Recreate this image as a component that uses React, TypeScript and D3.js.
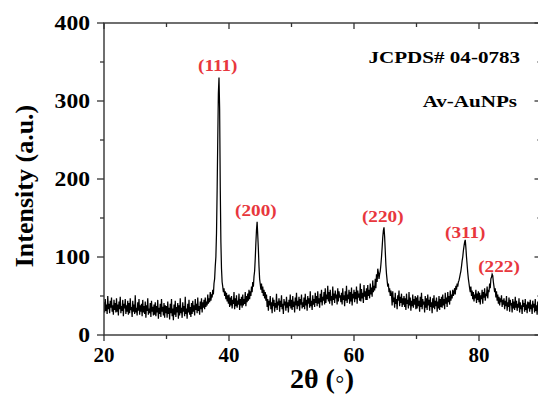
import { useMemo } from "react";
import * as d3 from "d3";

// 2θ from 20 to 90 in steps of 0.1 degrees
const START = 20;
const STEP = 0.1;

// intensities, 20 values per 2 degrees
const intensity: number[] = [
  42, 29, 46, 31, 39, 27, 50, 33, 40, 28, 44, 35, 48, 30, 38, 26, 45, 32, 41, 29,
  47, 30, 39, 25, 43, 33, 49, 28, 37, 31, 45, 24, 40, 34, 46, 27, 38, 30, 44, 26,
  41, 28, 47, 32, 36, 23, 44, 30, 39, 27, 51, 29, 35, 25, 42, 31, 46, 26, 38, 30,
  40, 24, 45, 29, 37, 27, 43, 22, 38, 31, 47, 26, 34, 28, 41, 23, 44, 30, 36, 25,
  39, 26, 42, 24, 37, 29, 45, 21, 35, 27, 40, 23, 46, 30, 36, 25, 41, 22, 38, 28,
  37, 22, 43, 27, 35, 20, 40, 28, 46, 24, 34, 19, 39, 26, 44, 23, 36, 29, 41, 21,
  38, 25, 47, 28, 35, 22, 42, 30, 37, 24, 49, 27, 34, 21, 40, 29, 45, 26, 36, 23,
  41, 27, 44, 30, 38, 25, 46, 32, 40, 28, 48, 31, 37, 26, 43, 33, 47, 29, 42, 35,
  45, 33, 48, 36, 43, 38, 52, 40, 47, 42, 55, 44, 50, 48, 58, 52, 66, 72, 88, 100,
  130, 185, 250, 310, 330, 290, 190, 120, 85, 68, 62, 55, 60, 50, 56, 46, 54, 43, 51, 40,
  52, 36, 48, 38, 50, 34, 45, 40, 55, 33, 47, 37, 51, 35, 44, 39, 53, 32, 46, 38,
  49, 35, 52, 38, 46, 40, 55, 37, 50, 42, 53, 44, 58, 46, 56, 50, 62, 55, 68, 62,
  75, 82, 98, 118, 135, 145, 128, 110, 88, 72, 65, 58, 66, 54, 62, 50, 58, 47, 55, 44,
  52, 36, 46, 31, 44, 38, 50, 33, 42, 28, 48, 37, 45, 30, 41, 35, 53, 32, 43, 38,
  47, 30, 44, 36, 51, 33, 40, 27, 46, 38, 43, 31, 49, 35, 42, 29, 45, 37, 52, 34,
  45, 32, 50, 36, 43, 29, 48, 38, 54, 33, 44, 37, 49, 31, 46, 39, 52, 34, 42, 36,
  48, 33, 53, 38, 45, 31, 50, 40, 47, 35, 56, 37, 44, 32, 51, 39, 46, 36, 54, 41,
  50, 37, 56, 40, 47, 35, 53, 42, 58, 38, 49, 44, 55, 39, 60, 41, 52, 46, 63, 43,
  55, 40, 58, 44, 50, 38, 62, 45, 53, 41, 57, 47, 52, 39, 60, 43, 56, 48, 51, 42,
  54, 39, 60, 45, 51, 37, 56, 44, 63, 41, 52, 46, 58, 40, 55, 43, 61, 38, 53, 47,
  58, 42, 55, 46, 62, 40, 57, 48, 53, 44, 66, 43, 59, 47, 54, 41, 64, 49, 56, 45,
  60, 45, 64, 50, 58, 47, 66, 52, 61, 49, 70, 55, 63, 57, 72, 60, 78, 68, 85, 80,
  72, 78, 82, 90, 100, 112, 125, 134, 138, 126, 108, 90, 78, 70, 62, 66, 55, 60, 50, 57,
  52, 38, 56, 42, 48, 35, 54, 40, 46, 33, 51, 44, 57, 37, 49, 41, 53, 36, 47, 39,
  50, 36, 47, 32, 53, 40, 45, 34, 55, 38, 48, 31, 44, 37, 52, 35, 46, 39, 50, 33,
  48, 34, 51, 37, 44, 30, 49, 36, 54, 33, 46, 39, 43, 29, 50, 35, 47, 32, 52, 38,
  45, 31, 49, 36, 42, 28, 47, 35, 51, 33, 44, 37, 48, 30, 43, 34, 50, 32, 46, 36,
  49, 35, 52, 38, 46, 33, 54, 40, 48, 36, 55, 42, 50, 39, 57, 44, 52, 47, 58, 50,
  54, 60, 52, 63, 58, 66, 62, 68, 70, 74, 78, 82, 88, 95, 100, 108, 114, 119, 122, 112,
  100, 90, 80, 72, 66, 60, 55, 62, 50, 57, 46, 55, 43, 52, 47, 58, 41, 53, 45, 56,
  42, 54, 39, 51, 46, 58, 40, 55, 48, 60, 44, 53, 50, 62, 47, 58, 55, 66, 60, 72,
  74, 78, 76, 68, 62, 55, 60, 48, 56, 44, 52, 40, 49, 38, 47, 42, 51, 36, 45, 39,
  47, 33, 44, 37, 50, 31, 42, 36, 48, 30, 45, 38, 41, 29, 46, 34, 43, 32, 49, 35,
  44, 31, 40, 35, 47, 29, 42, 33, 38, 27, 45, 36, 41, 30, 46, 32, 39, 28, 43, 34,
  42, 30, 45, 33, 39, 27, 44, 35, 40, 29, 46, 31, 38, 26, 43, 34, 41, 30, 44, 32,
  36,
];

const peakLabels = ["(111)", "(200)", "(220)", "(311)", "(222)"];
const peakPos = [38.2, 44.3, 64.6, 77.8, 83.2];
const peakLabelY = [338, 152, 145, 124, 81];

const xTicks = [20, 40, 60, 80];
const yTicks = [0, 100, 200, 300, 400];

const W = 538;
const H = 395;
const M = { left: 104, right: 541.5, top: 23, bottom: 335 };
const SERIF = "'Liberation Serif', 'Times New Roman', serif";
const RED = "#e8373d";
const AXIS = "#333";

export default function App() {
  const x = d3.scaleLinear().domain([20, 90]).range([M.left, M.right]);
  const y = d3.scaleLinear().domain([0, 400]).range([M.bottom, M.top]);

  const path = useMemo(() => {
    const line = d3
      .line<number>()
      .x((_, i) => x(START + i * STEP))
      .y((d) => y(d));
    return line(intensity) ?? "";
  }, []);

  const xMinor = d3.range(20, 91, 10);
  const yMinor = d3.range(0, 401, 50);

  return (
    <svg
      width={W}
      height={H}
      style={{ position: "absolute", left: 0, top: 0, background: "#fff" }}
      fontFamily={SERIF}
    >
      <defs>
        <clipPath id="plot">
          <rect x={M.left} y={M.top} width={M.right - M.left} height={M.bottom - M.top} />
        </clipPath>
      </defs>

      <path d={path} fill="none" stroke="#000" strokeWidth={1.25} clipPath="url(#plot)" />

      {/* frame */}
      <rect
        x={M.left}
        y={M.top}
        width={M.right - M.left}
        height={M.bottom - M.top}
        fill="none"
        stroke={AXIS}
        strokeWidth={1.4}
      />

      {/* x ticks: outward on bottom, inward on top */}
      {xMinor.map((t) => {
        const major = t % 20 === 0;
        return (
          <g key={"x" + t}>
            <line x1={x(t)} x2={x(t)} y1={M.bottom} y2={M.bottom + (major ? 6 : 4)} stroke={AXIS} strokeWidth={1.3} />
            <line x1={x(t)} x2={x(t)} y1={M.top} y2={M.top + (major ? 6 : 4)} stroke={AXIS} strokeWidth={1.3} />
          </g>
        );
      })}
      {xTicks.map((t) => (
        <text key={"xl" + t} x={x(t)} y={362} textAnchor="middle" fontSize={21} fontWeight="bold">
          {t}
        </text>
      ))}

      {/* y ticks: outward on left, inward on right */}
      {yMinor.map((t) => {
        const major = t % 100 === 0;
        return (
          <g key={"y" + t}>
            <line x1={M.left} x2={M.left - (major ? 7 : 4)} y1={y(t)} y2={y(t)} stroke={AXIS} strokeWidth={1.3} />
            <line x1={M.right} x2={M.right - (major ? 7 : 4)} y1={y(t)} y2={y(t)} stroke={AXIS} strokeWidth={1.3} />
          </g>
        );
      })}
      {yTicks.map((t) => (
        <text
          key={"yl" + t}
          transform={`translate(90,${y(t) + 7}) scale(1.18,1)`}
          textAnchor="end"
          fontSize={20}
          fontWeight="bold"
        >
          {t}
        </text>
      ))}

      {/* axis titles */}
      <text transform="translate(33,186) rotate(-90)" textAnchor="middle" fontSize={26} fontWeight="bold">
        Intensity (a.u.)
      </text>
      <text x={322} y={388} textAnchor="middle" fontSize={28} fontWeight="bold">
        2θ (◦)
      </text>

      {/* annotations */}
      <text transform="translate(520,63) scale(1.24,1)" textAnchor="end" fontSize={17} fontWeight="bold">
        JCPDS# 04-0783
      </text>
      <text transform="translate(517,107) scale(1.24,1)" textAnchor="end" fontSize={17} fontWeight="bold">
        Av-AuNPs
      </text>

      {peakLabels.map((lab, i) => (
        <text
          key={lab}
          transform={`translate(${x(peakPos[i])},${y(peakLabelY[i])}) scale(1.2,1)`}
          textAnchor="middle"
          fontSize={16}
          fontWeight="bold"
          fill={RED}
        >
          {lab}
        </text>
      ))}
    </svg>
  );
}
